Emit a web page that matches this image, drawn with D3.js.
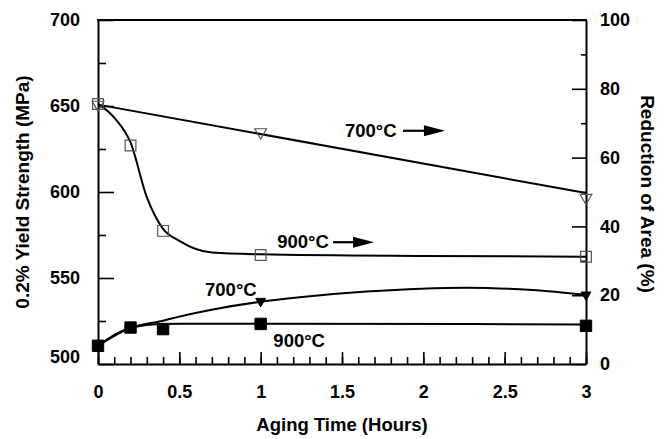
<!DOCTYPE html>
<html>
<head>
<meta charset="utf-8">
<script src="https://cdn.jsdelivr.net/npm/d3@7"></script>
<style>
  html, body { margin: 0; padding: 0; background: #fff; }
  svg { display: block; }
  text { font-family: "Liberation Sans", Arial, Helvetica, sans-serif; font-weight: bold; fill: #000; }
</style>
</head>
<body>
<svg id="chart" width="668" height="439"></svg>
<script>
// ---- Data ----
const ageTicks = [0, 0.5, 1, 1.5, 2, 2.5, 3];
const ageMinorTicks = d3.range(0, 31).map(d => d / 10);
const ysTicks = [500, 550, 600, 650, 700];
const ysMinorTicks = [525, 575, 625, 675];
const raTicks = [0, 20, 40, 60, 80, 100];
const raMinorTicks = [10, 30, 50, 70, 90];

// Reduction of area (right axis), open symbols
const ra700Time = [0, 1, 3];
const ra700 = [75.4, 67.4, 48.3];
const ra900Time = [0, 0.2, 0.4, 1, 3];
const ra900 = [75.6, 63.5, 38.7, 31.7, 31.2];

// Yield strength (left axis), filled symbols
const ys700Time = [1, 3];
const ys700 = [536.5, 540.2];
const ys900Time = [0, 0.2, 0.4, 1, 3];
const ys900 = [510.6, 521.2, 520.3, 523.3, 522.2];

// Fitted curves drawn in the reference
const fitRa700Time = [0, 3];
const fitRa700 = [75.4, 49.7];
const fitRa900Time = [0, 0.1, 0.2, 0.3, 0.4, 0.5, 0.7, 1, 2, 3];
const fitRa900 = [75.6, 71.6, 64.4, 48.5, 39.3, 35.8, 32.4, 31.9, 31.4, 31.2];
const fitYs700Time = [0, 0.2, 0.4, 0.48, 0.69, 1, 1.24, 1.65, 2.27, 2.67, 3];
const fitYs700 = [510.6, 521, 525.2, 527.1, 531.4, 536.2, 538.8, 542.1, 544.4, 543.0, 540.2];
const fitYs900Time = [0, 0.2, 0.4, 1, 3];
const fitYs900 = [510.6, 521, 523.3, 523.4, 523.0];

// Annotations
const annoText = ["700°C", "900°C", "700°C", "900°C"];
const annoAxis = ["ra", "ra", "ys", "ys"];
const annoTime = [1.518, 1.102, 0.658, 1.078];
const annoValue = [66.1, 33.8, 539.7, 510.1];
const arrowStartTime = [1.875, 1.445];
const arrowEndTime = [2.133, 1.697];
const arrowValue = [67.8, 35.4];

// ---- Layout ----
const svg = d3.select("#chart");
const L = 98, R = 586, T = 20, B = 364;

const x = d3.scaleLinear().domain([0, 3]).range([L, R]);
const yL = d3.scaleLinear().domain([500, 700]).range([B, T]);
const yR = d3.scaleLinear().domain([0, 100]).range([B, T]);

const fs = "18px";

function styleAxis(g, hideText) {
  g.selectAll(".domain").attr("stroke", "#000").attr("stroke-width", 2);
  g.selectAll(".tick line").attr("stroke", "#000").attr("stroke-width", 1.6);
  g.selectAll(".tick text").style("font-size", fs).attr("fill", "#000");
  if (hideText) g.selectAll(".tick text").remove();
}

// minor ticks
svg.append("g").attr("transform", `translate(${L},0)`)
  .call(d3.axisLeft(yL).tickValues(ysMinorTicks).tickSize(-8).tickSizeOuter(0))
  .call(g => { styleAxis(g, true); g.select(".domain").remove(); });
svg.append("g").attr("transform", `translate(${R},0)`)
  .call(d3.axisRight(yR).tickValues(raMinorTicks).tickSize(-5).tickSizeOuter(0))
  .call(g => { styleAxis(g, true); g.select(".domain").remove(); });
svg.append("g").attr("transform", `translate(0,${B})`)
  .call(d3.axisBottom(x).tickValues(ageMinorTicks).tickSize(-7).tickSizeOuter(0))
  .call(g => { styleAxis(g, true); g.select(".domain").remove(); });

// major axes
svg.append("g").attr("transform", `translate(${L},0)`)
  .call(d3.axisLeft(yL).tickValues(ysTicks).tickSize(-16).tickSizeOuter(0).tickPadding(18))
  .call(g => {
    styleAxis(g, false);
    g.selectAll(".tick text").filter(d => d === 500).attr("dy", "-0.1em");
  });
svg.append("g").attr("transform", `translate(${R},0)`)
  .call(d3.axisRight(yR).tickValues(raTicks).tickSize(-14).tickSizeOuter(0).tickPadding(14))
  .call(g => styleAxis(g, false));
svg.append("g").attr("transform", `translate(0,${B})`)
  .call(d3.axisBottom(x).tickValues(ageTicks).tickSize(-12).tickSizeOuter(0).tickPadding(21)
        .tickFormat(d3.format("")))
  .call(g => styleAxis(g, false));

// top border
svg.append("line").attr("x1", L - 1).attr("x2", R + 1).attr("y1", T).attr("y2", T)
  .attr("stroke", "#000").attr("stroke-width", 2);

// axis titles
svg.append("text").attr("transform", `translate(29,192) rotate(-90)`)
  .attr("text-anchor", "middle").style("font-size", "19px").text("0.2% Yield Strength (MPa)");
svg.append("text").attr("transform", `translate(641,194) rotate(90)`)
  .attr("text-anchor", "middle").style("font-size", "19px").text("Reduction of Area (%)");
svg.append("text").attr("x", (L + R) / 2).attr("y", 431)
  .attr("text-anchor", "middle").style("font-size", "18.5px").text("Aging Time (Hours)");

// fitted lines
function drawFit(times, vals, yScale) {
  const pts = times.map((t, i) => [t, vals[i]]);
  svg.append("path").datum(pts)
    .attr("fill", "none").attr("stroke", "#000").attr("stroke-width", 2)
    .attr("d", d3.line().x(d => x(d[0])).y(d => yScale(d[1])).curve(d3.curveMonotoneX));
}
drawFit(fitRa700Time, fitRa700, yR);
drawFit(fitRa900Time, fitRa900, yR);
drawFit(fitYs700Time, fitYs700, yL);
drawFit(fitYs900Time, fitYs900, yL);

// markers
function drawMarkers(times, vals, yScale, type, filled, size) {
  const sym = d3.symbol().type(type).size(size);
  svg.append("g").selectAll("path").data(times.map((t, i) => [t, vals[i]])).join("path")
    .attr("transform", d => `translate(${x(d[0])},${yScale(d[1])})` + (type === d3.symbolTriangle ? " rotate(180)" : ""))
    .attr("d", sym)
    .attr("fill", filled ? "#000" : "none")
    .attr("stroke", filled ? "#000" : "#555")
    .attr("stroke-width", filled ? 1 : 1.2);
}
drawMarkers(ra700Time, ra700, yR, d3.symbolTriangle, false, 60);
drawMarkers(ra900Time, ra900, yR, d3.symbolSquare, false, 115);
drawMarkers(ys900Time, ys900, yL, d3.symbolSquare, true, 130);
drawMarkers(ys700Time, ys700, yL, d3.symbolTriangle, true, 42);

// annotations
annoText.forEach((s, i) => {
  const ys = annoAxis[i] === "ra" ? yR : yL;
  svg.append("text").attr("x", x(annoTime[i])).attr("y", ys(annoValue[i]))
    .style("font-size", "18.5px").text(s);
});
arrowStartTime.forEach((t0, i) => {
  const x0 = x(t0), x1 = x(arrowEndTime[i]), yy = yR(arrowValue[i]);
  const headLen = 21;
  svg.append("line").attr("x1", x0).attr("x2", x1 - headLen + 2).attr("y1", yy).attr("y2", yy)
    .attr("stroke", "#000").attr("stroke-width", 2.2);
  svg.append("path")
    .attr("d", `M${x1 - headLen},${yy - 5.5}L${x1},${yy}L${x1 - headLen},${yy + 5.5}Z`)
    .attr("fill", "#000");
});
</script>
</body>
</html>
